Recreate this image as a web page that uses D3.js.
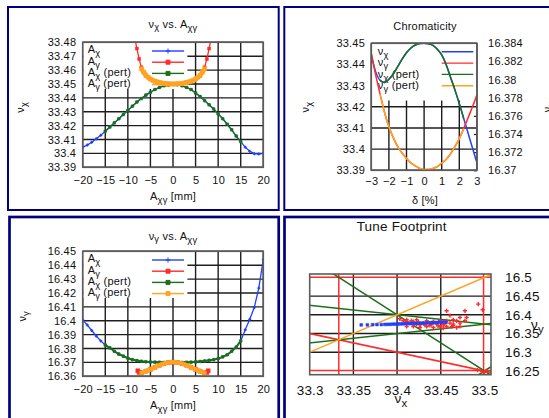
<!DOCTYPE html>
<html>
<head>
<meta charset="utf-8">
<script src="https://cdn.jsdelivr.net/npm/d3@7"></script>
<style>
  body { margin: 0; background: #fff; }
  svg text { font-family: "Liberation Sans", Arial, sans-serif; fill: #111; letter-spacing: 0.2px; }
</style>
</head>
<body>
<svg></svg>
<script>
// ---- amplitude scans (panels 1 and 3), amplitude in mm ----
var ampX = [-20,-19,-18,-17,-16,-15,-14,-13,-12,-11,-10,-9,-8,-7,-6,-5,-4,-3,-2,-1,0,
            1,2,3,4,5,6,7,8,9,10,11,12,13,14,15,16,17,18,19,20];
var ampXpert = [-15,-14,-13,-12,-11,-10,-9,-8,-7,-6,-5,-4,-3,-2,-1,0,1,2,3,4,5,6,7,8,9,10,11,12,13,14,15];

var nuxAx = [33.4045,33.406,33.408,33.4105,33.413,33.416,33.419,33.422,33.425,33.428,33.431,33.434,33.437,33.4395,33.442,33.444,33.446,33.4475,33.4487,33.4495,
             33.4498,
             33.4495,33.4487,33.4475,33.446,33.4435,33.441,33.438,33.435,33.432,33.4285,33.425,33.421,33.417,33.4125,33.4085,33.4045,33.4015,33.3998,33.3995,33.4];
var nuxAxPert = [33.416,33.419,33.422,33.425,33.428,33.431,33.434,33.437,33.4395,33.442,33.444,33.446,33.4475,33.4487,33.4495,
                 33.4498,
                 33.4495,33.4487,33.4475,33.446,33.4435,33.441,33.438,33.435,33.432,33.4285,33.425,33.421,33.417,33.4125,33.4085];
var ampY1 = [-8.4,-8,-7.5,-7,-6.5,-6,-5,-4,-3,-2,-1,0,1,2,3,4,5,6,6.5,7,7.5,8,8.4];
var nuxAy = [33.482,33.4755,33.468,33.462,33.4585,33.456,33.4535,33.452,33.451,33.4503,33.45,33.45,33.45,33.4503,33.451,33.452,33.4535,33.456,33.4585,33.462,33.468,33.4755,33.482];
var ampYpert = [-7,-6.5,-6,-5.5,-5,-4.5,-4,-3.5,-3,-2.5,-2,-1.5,-1,-0.5,0,0.5,1,1.5,2,2.5,3,3.5,4,4.5,5,5.5,6,6.5,7];
var nuxAyPert = [33.461,33.4585,33.4562,33.4548,33.4535,33.4527,33.452,33.4515,33.451,33.4507,33.4504,33.4502,33.4501,33.45,33.45,
                 33.45,33.4501,33.4502,33.4504,33.4507,33.451,33.4515,33.452,33.4527,33.4535,33.4548,33.4562,33.4585,33.461];

var nuyAx = [16.4005,16.397,16.393,16.389,16.3855,16.3825,16.3805,16.378,16.376,16.3745,16.373,16.372,16.3713,16.3708,16.3705,16.3703,16.3702,16.3701,16.37,16.37,
             16.37,
             16.37,16.37,16.3701,16.3702,16.3704,16.3707,16.371,16.3715,16.372,16.3727,16.374,16.3755,16.378,16.381,16.3855,16.3935,16.401,16.4095,16.4235,16.444];
var nuyAxPert = [16.3825,16.3805,16.378,16.376,16.3745,16.373,16.372,16.3713,16.3708,16.3705,16.3703,16.3702,16.3701,16.37,16.37,
                 16.37,
                 16.37,16.37,16.3701,16.3702,16.3704,16.3707,16.371,16.3715,16.372,16.3727,16.374,16.3755,16.378,16.381,16.3855];
var ampY3 = [-7.8,-7.5,-7,-6,-5,-4,-3,-2,-1,0,1,2,3,4,5,6,7,7.5,7.8];
var nuyAy = [16.364,16.3628,16.3625,16.3637,16.365,16.3665,16.368,16.3692,16.3699,16.3702,16.3699,16.3692,16.368,16.3665,16.365,16.3637,16.3625,16.3628,16.364];
var nuyAyPert = [16.3625,16.3631,16.3637,16.3643,16.365,16.3657,16.3665,16.3672,16.368,16.3686,16.3692,16.3696,16.3699,16.3701,16.3702,
                 16.3701,16.3699,16.3696,16.3692,16.3686,16.368,16.3672,16.3665,16.3657,16.365,16.3643,16.3637,16.3631,16.3625];

var ampTicks = [-20,-15,-10,-5,0,5,10,15,20];
var nuxTicks1 = [33.39,33.4,33.41,33.42,33.43,33.44,33.45,33.46,33.47,33.48];
var nuyTicks3 = [16.36,16.37,16.38,16.39,16.4,16.41,16.42,16.43,16.44,16.45];

// ---- chromaticity (panel 2), delta in % ----
var delta = [-3,-2.75,-2.5,-2.25,-2,-1.75,-1.5,-1.25,-1,-0.75,-0.5,-0.25,0,0.25,0.5,0.75,1,1.25,1.5,1.75,2,2.25,2.5,2.75,3];
var chromNux = [33.4445,33.4365,33.4325,33.4315,33.433,33.4355,33.439,33.4425,33.4455,33.4478,33.4492,33.4499,33.45,33.4498,33.449,33.4472,33.4445,33.44,33.434,33.428,33.4215,33.4145,33.4075,33.4005,33.3935];
var chromNuy = [16.3829,16.3805,16.3784,16.3764,16.3748,16.3736,16.3726,16.3719,16.3713,16.3708,16.3705,16.3702,16.3701,16.3701,16.3702,16.3704,16.3708,16.3712,16.3718,16.3726,16.3735,16.3746,16.3758,16.377,16.3783];
var deltaPert = [-2.5,-2.25,-2,-1.75,-1.5,-1.25,-1,-0.75,-0.5,-0.25,0,0.25,0.5,0.75,1,1.25,1.5,1.75,2,2.25];
var chromNuxPert = [33.4325,33.4315,33.433,33.4355,33.439,33.4425,33.4455,33.4478,33.4492,33.4499,33.45,33.4498,33.449,33.4472,33.4445,33.44,33.434,33.428,33.4215,33.4145];
var chromNuyPert = [16.3784,16.3764,16.3748,16.3736,16.3726,16.3719,16.3713,16.3708,16.3705,16.3702,16.3701,16.3701,16.3702,16.3704,16.3708,16.3712,16.3718,16.3726,16.3735,16.3746];
var deltaTicks = [-3,-2,-1,0,1,2,3];
var chromXTicks = [33.39,33.4,33.41,33.42,33.43,33.44,33.45];
var chromYTicks = [16.37,16.372,16.374,16.376,16.378,16.38,16.382,16.384];

// ---- tune footprint (panel 4) ----
var fpBlue = [[33.359,16.373],[33.366,16.3733],[33.372,16.3735],[33.377,16.3738],[33.382,16.374],[33.386,16.3742],[33.389,16.3745],[33.392,16.3747],
              [33.395,16.375],[33.398,16.3752],[33.401,16.3755],[33.404,16.3757],[33.407,16.376],[33.41,16.3762],[33.413,16.3765],[33.416,16.3768],
              [33.419,16.377],[33.422,16.3773],[33.425,16.3776],[33.428,16.3778],[33.431,16.378],[33.434,16.3783],[33.437,16.3786],[33.44,16.3789],
              [33.443,16.3792],[33.446,16.3795],[33.449,16.3798],[33.452,16.3802],[33.456,16.3806]];
var fpRed = [[33.4033,16.3893],[33.4071,16.384],[33.411,16.3866],[33.4148,16.3778],[33.4186,16.3821],[33.4224,16.3751],[33.4224,16.3866],[33.4262,16.3733],
             [33.43,16.3778],[33.4339,16.3687],[33.4376,16.3778],[33.4376,16.3714],[33.4415,16.366],[33.4453,16.3751],[33.4491,16.3687],[33.4529,16.3644],
             [33.4529,16.3733],[33.4567,16.3687],[33.4605,16.3778],[33.4643,16.3714],[33.4682,16.366],[33.472,16.3687],[33.411,16.3687],[33.4186,16.3687],
             [33.4262,16.366],[33.4339,16.384],[33.4415,16.3821],[33.4491,16.384],[33.4529,16.3821],[33.4567,16.384],[33.4643,16.3866],[33.4682,16.384],
             [33.472,16.3778],[33.4643,16.3751],[33.4777,16.384],[33.4605,16.3981],[33.472,16.3928],[33.4567,16.4107],[33.4777,16.4107],[33.4929,16.4286],
             [33.4979,16.4134],[33.4796,16.3928],[33.492,16.252],[33.497,16.249],[33.503,16.251],[33.5,16.247],
             [33.4095,16.3795],[33.4165,16.3845],[33.4245,16.3805],[33.432,16.3725],[33.4395,16.3745],[33.447,16.3705],[33.4545,16.3765],[33.4625,16.3685]];
// resonance lines, as pairs of tune points
var resRed = [[[33.3333,16.2],[33.3333,16.55]],[[33.499,16.2],[33.499,16.55]],[[33.2,16.5],[33.6,16.5]],
              [[33.2,16.2515],[33.6,16.2515]],[[33.25,16.375],[33.55,16.225]]];
var resGreen = [[[33.3,16.55],[33.55,16.175]],[[33.25,16.4375],[33.55,16.3625]],[[33.25,16.3125],[33.55,16.3875]],[[33.48,16.22],[33.52,16.28]]];
var resOrange = [[[33.25,16.25],[33.55,16.55]]];
var fpXTicks = [33.3,33.35,33.4,33.45,33.5];
var fpYTicks = [16.25,16.3,16.35,16.4,16.45,16.5];
var fpGridX = [33.35,33.4,33.45];
var fpGridY = [16.3,16.35,16.4,16.45];

var svg = d3.select("svg").attr("width", 549).attr("height", 418);

var navy = "#000080", gridCol = "#1e1e1e", frameCol = "#5c5c5c";
var cBlue = "#2040ff", cRed = "#ff2b2b", cGreen = "#1b701b", cOrange = "#ffa323";
var fs = 11;

// text with subscripts: parts = [[text, isSub], ...]
function rich(sel, parts) {
  var down = false;
  parts.forEach(function(p) {
    var ts = sel.append("tspan").text(p[0]);
    if (p[1]) {
      ts.attr("font-size", "85%");
      if (!down) { ts.attr("dy", "0.32em"); down = true; }
    } else if (down) {
      ts.attr("dy", "-0.27em"); down = false;
    }
  });
  return sel;
}

function markers(g, pts, x, y, shape, col, sz) {
  var d = shape == "plus" ? "M" + (-sz) + ",0H" + sz + "M0," + (-sz) + "V" + sz
                          : "M" + (-sz) + "," + (-sz) + "h" + (2 * sz) + "v" + (2 * sz) + "h" + (-2 * sz) + "Z";
  g.append("g").selectAll("path").data(pts).enter().append("path")
    .attr("transform", function(p) { return "translate(" + x(p[0]) + "," + y(p[1]) + ")"; })
    .attr("d", d)
    .attr("fill", shape == "plus" ? "none" : col)
    .attr("stroke", col)
    .attr("stroke-width", shape == "plus" ? 1.4 : 0.5);
}

function zip(a, b) { return a.map(function(v, i) { return [v, b[i]]; }); }
function plain(d) { return String(d); }

function styleAxis(ax, size) {
  ax.attr("font-family", null).attr("font-size", size);
  ax.select(".domain").remove();
  ax.selectAll(".tick line").attr("stroke", gridCol);
}

// navy panel borders
svg.append("rect").attr("x", 8).attr("y", 7).attr("width", 270.7).attr("height", 203)
  .attr("fill", "none").attr("stroke", navy).attr("stroke-width", 2);
svg.append("rect").attr("x", 284.3).attr("y", 7).attr("width", 300).attr("height", 203)
  .attr("fill", "none").attr("stroke", navy).attr("stroke-width", 2);
svg.append("rect").attr("x", 9.5).attr("y", 217).attr("width", 269.2).attr("height", 260)
  .attr("fill", "none").attr("stroke", navy).attr("stroke-width", 2.7);
svg.append("rect").attr("x", 284.5).attr("y", 217).attr("width", 300).attr("height", 260)
  .attr("fill", "none").attr("stroke", navy).attr("stroke-width", 2.7);

// ---------- panels 1 and 3 ----------
function ampPanel(p) {
  var g = svg.append("g");
  var L = 82.7, R = 263.3, T = p.top, B = p.top + 125;
  var x = d3.scaleLinear().domain([-20, 20]).range([L, R]);
  var y = d3.scaleLinear().domain(p.yDomain).range([B, T]);

  g.append("clipPath").attr("id", p.id).append("rect")
    .attr("x", L).attr("y", T).attr("width", R - L).attr("height", B - T);

  g.append("g").selectAll("line").data(ampTicks).enter().append("line")
    .attr("x1", x).attr("x2", x).attr("y1", T).attr("y2", B)
    .attr("stroke", gridCol).attr("stroke-width", 1.4);
  g.append("g").selectAll("line").data(p.yTicks).enter().append("line")
    .attr("x1", L).attr("x2", R).attr("y1", y).attr("y2", y)
    .attr("stroke", gridCol).attr("stroke-width", 1.4);

  var ax = g.append("g").attr("transform", "translate(0," + B + ")")
    .call(d3.axisBottom(x).tickValues(ampTicks).tickSize(0).tickPadding(8.8));
  styleAxis(ax, fs);
  var ay = g.append("g").attr("transform", "translate(" + L + ",0)")
    .call(d3.axisLeft(y).tickValues(p.yTicks).tickSize(0).tickPadding(6.5).tickFormat(plain));
  styleAxis(ay, fs);

  // legend (white box hides the grid)
  g.append("rect").attr("x", L + 0.7).attr("y", T + 0.7).attr("width", 104).attr("height", 46)
    .attr("fill", "#fff");
  var leg = [
    { t: [["A"], ["χ", 1]], c: cBlue, s: "plus" },
    { t: [["A"], ["γ", 1]], c: cRed, s: "sq" },
    { t: [["A"], ["χ", 1], [" (pert)"]], c: cGreen, s: "sq" },
    { t: [["A"], ["γ", 1], [" (pert)"]], c: cOrange, s: "sq" }
  ];
  var lg = g.append("g").selectAll("g").data(leg).enter().append("g");
  lg.each(function(d, i) {
    var e = d3.select(this);
    var ly = T + 8.7 + i * 11.2;
    rich(e.append("text").attr("x", L + 5).attr("y", T + 11 + i * 11.3).attr("font-size", fs), d.t);
    e.append("line").attr("x1", 152).attr("x2", 184).attr("y1", ly).attr("y2", ly)
      .attr("stroke", d.c).attr("stroke-width", 1.4);
    var c = d.s == "plus" ? "M165.5," + ly + "h5M168," + (ly - 2.5) + "v5" : "M166," + (ly - 2) + "h4v4h-4Z";
    e.append("path").attr("d", c).attr("fill", d.c).attr("stroke", d.c).attr("stroke-width", 1);
  });

  var line = d3.line().x(function(d) { return x(d[0]); }).y(function(d) { return y(d[1]); });
  var curves = g.append("g").attr("clip-path", "url(#" + p.id + ")");
  p.series.forEach(function(s) {
    var pts = zip(s.x, s.y);
    curves.append("path").attr("d", line(pts)).attr("fill", "none")
      .attr("stroke", s.c).attr("stroke-width", s.w || 1.3);
    markers(curves, pts, x, y, s.s, s.c, s.m);
  });

  g.append("rect").attr("x", L).attr("y", T).attr("width", R - L).attr("height", B - T)
    .attr("fill", "none").attr("stroke", frameCol).attr("stroke-width", 1.6);

  rich(g.append("text").attr("x", 173).attr("y", p.titleY).attr("text-anchor", "middle").attr("font-size", fs), p.title);
  rich(g.append("text").attr("x", 173).attr("y", B + 32.5).attr("text-anchor", "middle").attr("font-size", fs),
    [["A"], ["χγ", 1], [" [mm]"]]);
  rich(g.append("text").attr("transform", "translate(" + (p.ylabX) + "," + (T + 65) + ") rotate(-90)")
    .attr("text-anchor", "middle").attr("font-size", fs), p.ylab);
}

ampPanel({
  id: "c1", top: 42.3, yDomain: [33.39, 33.48], yTicks: nuxTicks1, titleY: 27.5, ylabX: 24,
  title: [["ν"], ["χ", 1], [" vs. A"], ["χγ", 1]], ylab: [["ν"], ["χ", 1]],
  series: [
    { x: ampX, y: nuxAx, c: cBlue, s: "plus", m: 1.5 },
    { x: ampY1, y: nuxAy, c: cRed, s: "sq", m: 1.5 },
    { x: ampXpert, y: nuxAxPert, c: cGreen, s: "sq", m: 1.3 },
    { x: ampYpert, y: nuxAyPert, c: cOrange, s: "sq", m: 2, w: 4.5 }
  ]
});

ampPanel({
  id: "c3", top: 251.3, yDomain: [16.36, 16.45], yTicks: nuyTicks3, titleY: 239.5, ylabX: 25.5,
  title: [["ν"], ["γ", 1], [" vs. A"], ["χγ", 1]], ylab: [["ν"], ["γ", 1]],
  series: [
    { x: ampX, y: nuyAx, c: cBlue, s: "plus", m: 1.5 },
    { x: ampY3, y: nuyAy, c: cRed, s: "sq", m: 2 },
    { x: ampXpert, y: nuyAxPert, c: cGreen, s: "sq", m: 1.3, w: 2 },
    { x: ampYpert, y: nuyAyPert, c: cOrange, s: "sq", m: 1.8, w: 3.5 }
  ]
});

// ---------- panel 2: chromaticity ----------
(function() {
  var g = svg.append("g");
  var L = 371.3, R = 476.9, T = 43.3, B = 170.3;
  var x = d3.scaleLinear().domain([-3, 3]).range([L, R]);
  var y = d3.scaleLinear().domain([33.39, 33.45]).range([B, T]);
  var y2 = d3.scaleLinear().domain([16.37, 16.384]).range([B, T]);

  g.append("clipPath").attr("id", "c2").append("rect")
    .attr("x", L).attr("y", T).attr("width", R - L).attr("height", B - T);

  g.append("g").selectAll("line").data(deltaTicks).enter().append("line")
    .attr("x1", x).attr("x2", x).attr("y1", T).attr("y2", B)
    .attr("stroke", gridCol).attr("stroke-width", 1.4);
  g.append("g").selectAll("line").data(chromXTicks).enter().append("line")
    .attr("x1", L).attr("x2", R).attr("y1", y).attr("y2", y)
    .attr("stroke", gridCol).attr("stroke-width", 1.4);

  var ax = g.append("g").attr("transform", "translate(0," + B + ")")
    .call(d3.axisBottom(x).tickValues(deltaTicks).tickSize(0).tickPadding(7).tickFormat(d3.format("d")));
  styleAxis(ax, fs);
  var ay = g.append("g").attr("transform", "translate(" + L + ",0)")
    .call(d3.axisLeft(y).tickValues(chromXTicks).tickSize(0).tickPadding(6.3).tickFormat(plain));
  styleAxis(ay, fs);
  var ay2 = g.append("g").attr("transform", "translate(" + R + ",0)")
    .call(d3.axisRight(y2).tickValues(chromYTicks).tickSize(-3).tickPadding(11.2).tickFormat(plain));
  styleAxis(ay2, fs);
  ay2.selectAll(".tick line").attr("stroke-width", 1.2);

  g.append("rect").attr("x", L + 0.7).attr("y", T + 0.7).attr("width", R - L - 1.4).attr("height", 56.5)
    .attr("fill", "#fff");
  var leg = [
    { t: [["ν"], ["χ", 1]], c: cBlue },
    { t: [["ν"], ["γ", 1]], c: cRed },
    { t: [["ν"], ["χ", 1], [" (pert)"]], c: cGreen },
    { t: [["ν"], ["γ", 1], [" (pert)"]], c: cOrange }
  ];
  leg.forEach(function(d, i) {
    rich(g.append("text").attr("x", L + 6.5).attr("y", T + 11.5 + i * 11.4).attr("font-size", fs), d.t);
    g.append("line").attr("x1", 441.7).attr("x2", 473.3).attr("y1", T + 8.5 + i * 11.3).attr("y2", T + 8.5 + i * 11.3)
      .attr("stroke", d.c).attr("stroke-width", 1.4);
  });

  var cv = g.append("g").attr("clip-path", "url(#c2)");
  var lx = d3.line().x(function(d) { return x(d[0]); }).y(function(d) { return y(d[1]); }).curve(d3.curveMonotoneX);
  var ly = d3.line().x(function(d) { return x(d[0]); }).y(function(d) { return y2(d[1]); }).curve(d3.curveMonotoneX);
  cv.append("path").attr("d", lx(zip(delta, chromNux))).attr("fill", "none").attr("stroke", cBlue).attr("stroke-width", 1.5);
  cv.append("path").attr("d", ly(zip(delta, chromNuy))).attr("fill", "none").attr("stroke", cRed).attr("stroke-width", 1.5);
  cv.append("path").attr("d", lx(zip(deltaPert, chromNuxPert))).attr("fill", "none").attr("stroke", cGreen).attr("stroke-width", 1.5);
  cv.append("path").attr("d", ly(zip(deltaPert, chromNuyPert))).attr("fill", "none").attr("stroke", cOrange).attr("stroke-width", 1.5);

  g.append("rect").attr("x", L).attr("y", T).attr("width", R - L).attr("height", B - T)
    .attr("fill", "none").attr("stroke", frameCol).attr("stroke-width", 1.6);

  g.append("text").attr("x", 425).attr("y", 30).attr("text-anchor", "middle").attr("font-size", 11).text("Chromaticity");
  g.append("text").attr("x", 425).attr("y", 203.5).attr("text-anchor", "middle").attr("font-size", fs).text("δ [%]");
  rich(g.append("text").attr("transform", "translate(309,107) rotate(-90)").attr("text-anchor", "middle").attr("font-size", fs),
    [["ν"], ["χ", 1]]);
  rich(g.append("text").attr("transform", "translate(550.5,107) rotate(-90)").attr("text-anchor", "middle").attr("font-size", fs),
    [["ν"], ["γ", 1]]);
})();

// ---------- panel 4: tune footprint ----------
(function() {
  var g = svg.append("g");
  var L = 309.7, R = 491, T = 274, B = 374.7;
  var x = d3.scaleLinear().domain([33.3, 33.5075]).range([L, R]);
  var y = d3.scaleLinear().domain([16.24, 16.509]).range([B, T]);

  g.append("clipPath").attr("id", "c4").append("rect")
    .attr("x", L).attr("y", T).attr("width", R - L).attr("height", B - T);

  g.append("g").selectAll("line").data(fpGridX).enter().append("line")
    .attr("x1", x).attr("x2", x).attr("y1", T).attr("y2", B)
    .attr("stroke", gridCol).attr("stroke-width", 1.4);
  g.append("g").selectAll("line").data(fpGridY).enter().append("line")
    .attr("x1", L).attr("x2", R).attr("y1", y).attr("y2", y)
    .attr("stroke", gridCol).attr("stroke-width", 1.4);

  var ax = g.append("g").attr("transform", "translate(0," + B + ")")
    .call(d3.axisBottom(x).tickValues(fpXTicks).tickSize(0).tickPadding(11).tickFormat(plain));
  styleAxis(ax, 13.5);
  var ay = g.append("g").attr("transform", "translate(" + R + ",0)")
    .call(d3.axisRight(y).tickValues(fpYTicks).tickSize(0).tickPadding(14).tickFormat(plain));
  styleAxis(ay, 13.5);

  var cv = g.append("g").attr("clip-path", "url(#c4)");
  var seg = d3.line().x(function(d) { return x(d[0]); }).y(function(d) { return y(d[1]); });
  [[resRed, cRed], [resGreen, cGreen], [resOrange, cOrange]].forEach(function(r) {
    cv.append("g").selectAll("path").data(r[0]).enter().append("path")
      .attr("d", seg).attr("fill", "none").attr("stroke", r[1]).attr("stroke-width", 1.5);
  });
  markers(cv, fpRed, x, y, "plus", cRed, 2.1);
  markers(cv, fpBlue, x, y, "sq", cBlue, 1.4);

  g.append("rect").attr("x", L).attr("y", T).attr("width", R - L).attr("height", B - T)
    .attr("fill", "none").attr("stroke", frameCol).attr("stroke-width", 1.6);

  g.append("text").attr("x", 401.7).attr("y", 231).attr("text-anchor", "middle").attr("font-size", 13.5).text("Tune Footprint");
  rich(g.append("text").attr("x", 401).attr("y", 403).attr("text-anchor", "middle").attr("font-size", 13.5), [["ν"], ["x", 1]]);
  rich(g.append("text").attr("x", 531).attr("y", 329).attr("font-size", 13.5), [["ν"], ["y", 1]]);
})();
</script>
</body>
</html>
